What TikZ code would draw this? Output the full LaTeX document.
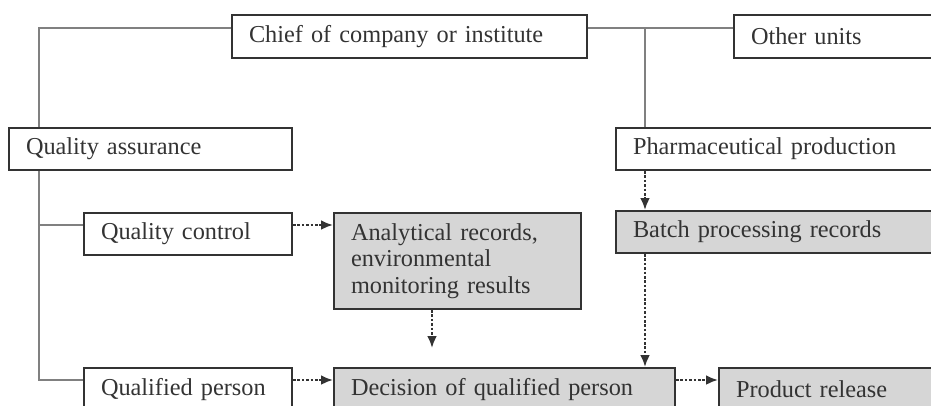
\documentclass[tikz,border=0pt]{standalone}
\usepackage{fontspec}
\setmainfont{Liberation Serif}
\usetikzlibrary{arrows.meta,positioning}

\definecolor{ink}{HTML}{333333}
\definecolor{boxgray}{HTML}{D6D6D6}
\tikzset{
  box/.style={draw=ink, line width=2pt, anchor=north west, inner xsep=17pt,
              minimum height=43pt, align=left, text=ink,
              font=\fontsize{24.3}{26.5}\selectfont},
  shaded/.style={box, fill=boxgray},
  tree/.style={draw=gray, line width=1.2pt},
  flow/.style={draw=ink, line width=2.6pt, dash pattern=on 2.6pt off 1.8pt,
               -{Latex[length=12pt,width=10pt]}}
}

\begin{document}
\begin{tikzpicture}[x=1pt,y=-1pt]
\useasboundingbox (0,0) rectangle (931,405);
\clip (0,0) rectangle (931,405);
\node[box, text width=321pt] (Chief) at (231,14) {Chief of company or institute};
\node[box, text width=206pt] (Other) at (733,14) {Other units};
\node[box, text width=249pt, minimum height=42pt] (QA) at (8,127) {Quality assurance};
\node[box, text width=316pt, minimum height=42pt] (Pharm) at (615,127) {Pharmaceutical production};
\node[box, text width=174pt, minimum height=42pt] (QC) at (83,212) {Quality control};
\node[shaded, text width=213pt, minimum height=96pt] (Ana) at (333,212) {Analytical records,\\environmental\\monitoring results};
\node[shaded, text width=316pt, minimum height=42pt] (Batch) at (615,210) {Batch processing records};
\node[box, text width=174pt] (QP) at (83,367) {Qualified person};
\node[shaded, text width=307pt] (Dec) at (333,367) {Decision of qualified person};
\node[shaded, text width=216pt] (Rel) at (718,367) {Product release};
% connector levels
\coordinate (Y1) at (0,28);
\coordinate (Y3) at (0,225);
\coordinate (Y4) at (0,380);
\coordinate (X1) at (39,0);
\coordinate (X2) at (645,0);
\coordinate (X3) at (432,0);
\draw[tree] (Chief.west |- Y1) -| (QA.north -| X1);
\draw[tree] (Chief.east |- Y1) -- (Other.west |- Y1);
\draw[tree] (X2 |- Y1) -- (Pharm.north -| X2);
\draw[tree] (QA.south -| X1) |- (QP.west |- Y4);
\draw[tree] (X1 |- Y3) -- (QC.west |- Y3);
\draw[flow] (Pharm.south -| X2) -- (Batch.north -| X2);
\draw[flow] (QC.east |- Y3) -- (Ana.west |- Y3);
\draw[flow, shorten >=19pt] (Ana.south -| X3) -- (Dec.north -| X3);
\draw[flow] (Batch.south -| X2) -- (Dec.north -| X2);
\draw[flow] (QP.east |- Y4) -- (Dec.west |- Y4);
\draw[flow] (Dec.east |- Y4) -- (Rel.west |- Y4);
\end{tikzpicture}
\end{document}
